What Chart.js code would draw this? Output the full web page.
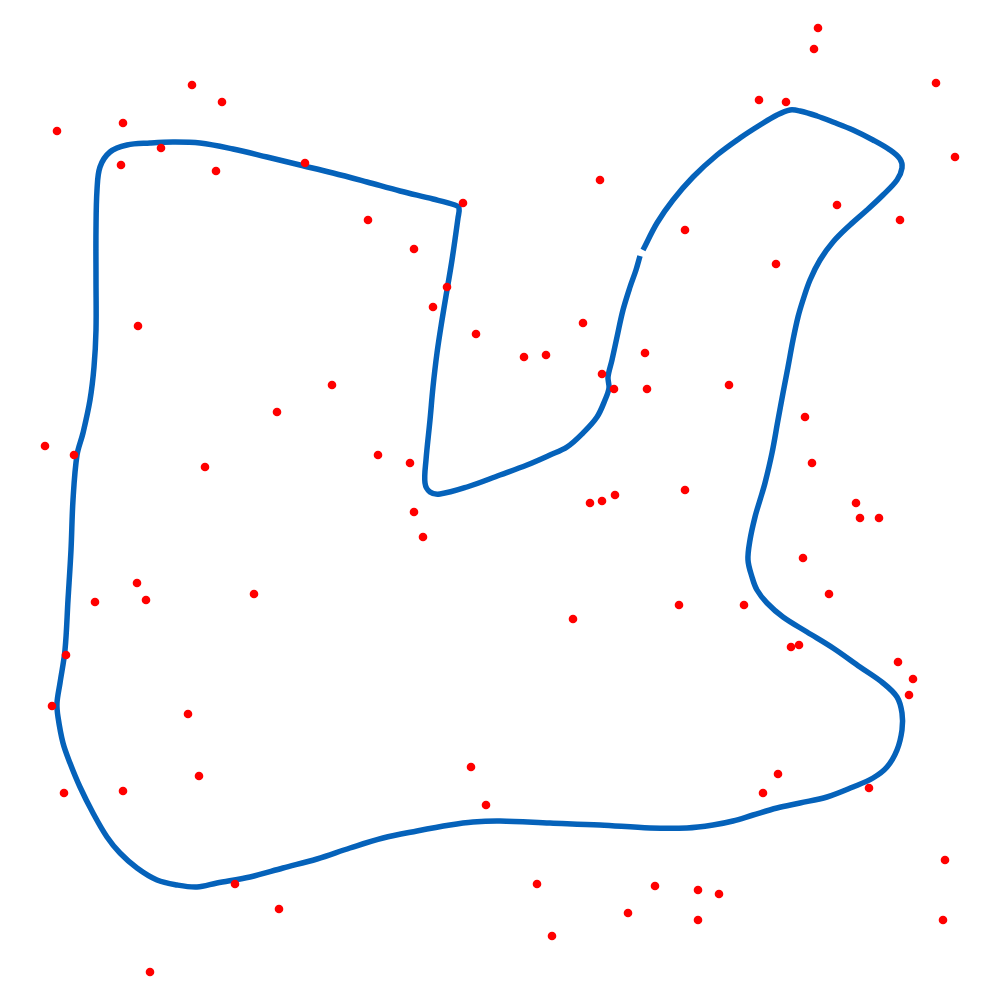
<!DOCTYPE html>
<html>
<head>
<meta charset="utf-8">
<script src="https://cdn.jsdelivr.net/npm/chart.js@4/dist/chart.umd.min.js"></script>
<style>
  html, body { margin: 0; padding: 0; background: #ffffff; }
  #wrap { width: 1000px; height: 1000px; position: relative; }
</style>
</head>
<body>
<div id="wrap"><canvas id="c"></canvas></div>
<script>
// Closed outline, starting just after the small gap
const curveX = [643,657,673,693,717,740,760,777,790,800,817,833,853,873,890,900,902,897,883,867,850,833,820,810,803,798,793,788,783,778,772,765,760,755,750,748,752,757,767,783,807,833,860,883,897,902,902,897,887,873,853,827,800,777,753,733,713,687,650,600,550,500,473,450,417,383,350,317,283,250,217,197,177,157,137,120,107,93,80,70,63,58,57,60,65,68,71,73,77,83,90,94,96,96,96,97,100,110,127,150,173,200,233,267,300,333,367,400,433,455,459,458,452,447,442,437,433,430,426,425,430,440,467,500,527,550,567,583,597,605,609,608,612,617,623,630,636,640];
const curveY = [750,777,800,823,845,862,875,885,890,889,884,878,870,860,850,841,832,820,805,790,775,758,740,720,700,683,660,633,607,580,547,517,500,483,460,440,423,410,397,383,368,352,333,317,303,287,270,250,233,222,213,203,197,192,185,179,175,172,172,175,177,179,178,175,169,162,152,141,132,123,117,113,115,120,132,147,163,187,213,237,257,283,297,317,350,400,450,500,545,567,600,633,670,720,770,810,833,848,855,857,858,857,851,843,835,827,818,809,801,795,792,782,740,710,680,647,613,580,540,517,508,506,513,525,535,545,553,567,583,600,612,623,640,663,690,713,730,744];

// Scattered red points
const dotsX = [818,814,192,936,222,759,786,57,123,955,161,121,305,216,600,463,837,368,900,685,414,776,447,433,583,138,476,524,546,645,602,614,647,332,729,277,805,45,74,378,410,812,205,685,615,602,590,856,860,879,414,423,803,137,829,254,95,146,679,744,573,799,791,66,898,913,909,52,188,471,199,778,123,64,763,869,486,945,537,655,235,698,719,279,628,698,943,552,150];
const dotsY = [972,951,915,917,898,900,898,869,877,843,852,835,837,829,820,797,795,780,780,770,751,736,713,693,677,674,666,643,645,647,626,611,611,615,615,588,583,554,545,545,537,537,533,510,505,499,497,497,482,482,488,463,442,417,406,406,398,400,395,395,381,355,353,345,338,321,305,294,286,233,224,226,209,207,207,212,195,140,116,114,116,110,106,91,87,80,80,64,28];

const axisMin = 0, axisMax = 1000;

const curveData = curveX.map((x, i) => ({ x: x, y: curveY[i] }));
const dotsData = dotsX.map((x, i) => ({ x: x, y: dotsY[i] }));

new Chart(document.getElementById('c'), {
  type: 'scatter',
  data: {
    datasets: [
      {
        label: 'points',
        data: dotsData,
        backgroundColor: '#ff0000',
        borderWidth: 0,
        pointRadius: 4.3,
        order: 0
      },
      {
        label: 'outline',
        data: curveData,
        showLine: true,
        borderColor: '#0562ba',
        borderWidth: 5.5,
        pointRadius: 0,
        tension: 0.35,
        fill: false,
        order: 1
      }
    ]
  },
  options: {
    responsive: true,
    maintainAspectRatio: false,
    animation: false,
    layout: { padding: 0, autoPadding: false },
    plugins: { legend: { display: false }, tooltip: { enabled: false } },
    scales: {
      x: { type: 'linear', min: axisMin, max: axisMax, display: false },
      y: { type: 'linear', min: axisMin, max: axisMax, display: false }
    }
  }
});
</script>
</body>
</html>
